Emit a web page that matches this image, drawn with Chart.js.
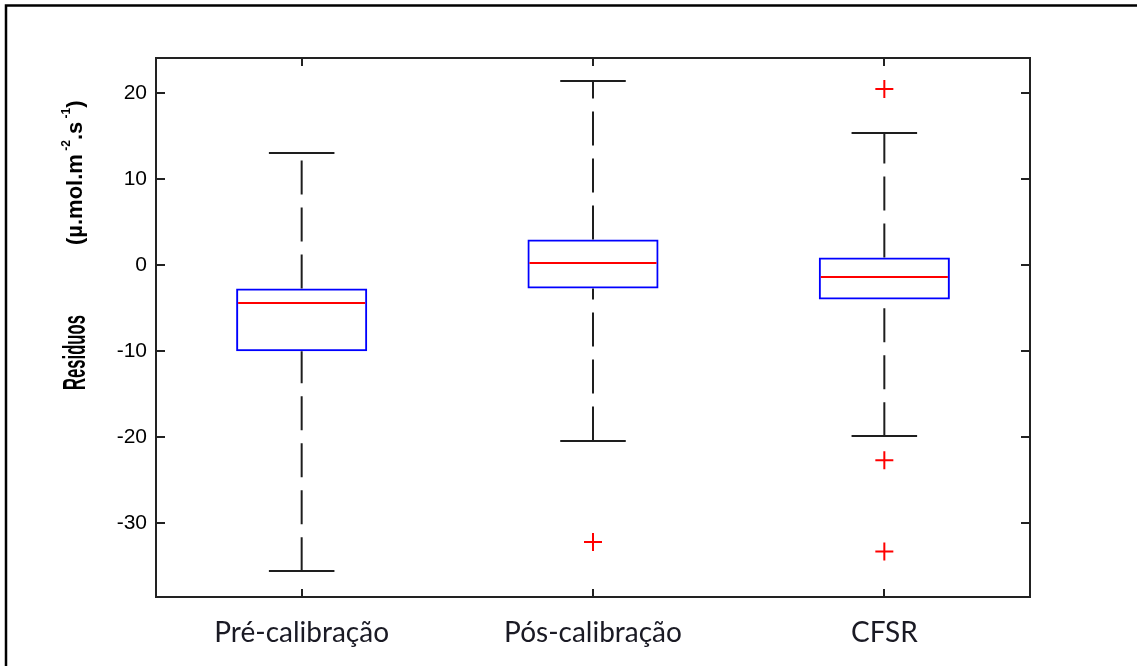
<!DOCTYPE html>
<html>
<head>
<meta charset="utf-8">
<script src="https://cdn.jsdelivr.net/npm/chart.js@4.4.0/dist/chart.umd.min.js"></script>
<style>
  html, body { margin: 0; padding: 0; background: #fff; }
</style>
</head>
<body>
<canvas id="boxChart" width="1137" height="666"></canvas>
<script>
// Box plot values
const categories = ["Pré-calibração", "Pós-calibração", "CFSR"];
const lowerWhisker = [-35.6, -20.4, -19.9];
const q1 = [-10.0, -2.7, -4.0];
const medians = [-4.4, 0.3, -1.4];
const q3 = [-2.7, 3.0, 0.9];
const upperWhisker = [13.1, 21.4, 15.4];
const outlierCats = ["Pós-calibração", "CFSR", "CFSR", "CFSR"];
const outlierVals = [-32.2, 20.5, -22.7, -33.3];
const yTicks = [-30, -20, -10, 0, 10, 20];
const yMin = -38.6, yMax = 24.1;

// whiskers, caps and medians drawn with the scales
const boxParts = {
  id: "boxParts",
  afterDatasetsDraw(chart) {
    const ctx = chart.ctx;
    const x = chart.scales.x, y = chart.scales.y;
    const band = x.getPixelForValue(1) - x.getPixelForValue(0);
    const boxW = band * 0.45;
    ctx.save();
    categories.forEach((c, i) => {
      const cx = x.getPixelForValue(i);
      // dashed whiskers
      ctx.strokeStyle = "#1e1e1e";
      ctx.lineWidth = 2;
      ctx.setLineDash([34, 13]);
      ctx.beginPath();
      ctx.moveTo(cx, y.getPixelForValue(q3[i]));
      ctx.lineTo(cx, y.getPixelForValue(upperWhisker[i]));
      ctx.stroke();
      ctx.beginPath();
      ctx.moveTo(cx, y.getPixelForValue(lowerWhisker[i]));
      ctx.lineTo(cx, y.getPixelForValue(q1[i]));
      ctx.stroke();
      // caps
      ctx.setLineDash([]);
      [upperWhisker[i], lowerWhisker[i]].forEach(v => {
        const py = Math.round(y.getPixelForValue(v));
        ctx.beginPath();
        ctx.moveTo(cx - boxW / 4, py);
        ctx.lineTo(cx + boxW / 4, py);
        ctx.stroke();
      });
      // median
      ctx.strokeStyle = "#ff0000";
      const my = Math.round(y.getPixelForValue(medians[i]));
      ctx.beginPath();
      ctx.moveTo(cx - boxW / 2 + 2, my);
      ctx.lineTo(cx + boxW / 2 - 2, my);
      ctx.stroke();
    });
    ctx.restore();
  }
};

// axes box with inward ticks, outer frame, y title
const frame = {
  id: "frame",
  afterDraw(chart) {
    const ctx = chart.ctx;
    const a = chart.chartArea;
    const x = chart.scales.x, y = chart.scales.y;
    ctx.save();
    ctx.strokeStyle = "#000";
    ctx.lineWidth = 2.5;
    ctx.beginPath();
    ctx.moveTo(6, 666);
    ctx.lineTo(6, 5.5);
    ctx.lineTo(1137, 5.5);
    ctx.stroke();

    ctx.strokeStyle = "#222";
    ctx.lineWidth = 2;
    ctx.strokeRect(a.left, a.top, a.right - a.left, a.bottom - a.top);
    ctx.beginPath();
    yTicks.forEach(v => {
      const py = Math.round(y.getPixelForValue(v));
      ctx.moveTo(a.left, py); ctx.lineTo(a.left + 9, py);
      ctx.moveTo(a.right, py); ctx.lineTo(a.right - 9, py);
    });
    categories.forEach((c, i) => {
      const px = Math.round(x.getPixelForValue(i));
      ctx.moveTo(px, a.top); ctx.lineTo(px, a.top + 8);
      ctx.moveTo(px, a.bottom); ctx.lineTo(px, a.bottom - 8);
    });
    ctx.stroke();

    // y axis title
    ctx.translate(85, 390);
    ctx.rotate(-Math.PI / 2);
    ctx.fillStyle = "#000";
    ctx.textBaseline = "alphabetic";
    ctx.save();
    ctx.scale(0.52, 1);
    ctx.font = "bold 32px 'Liberation Sans'";
    ctx.fillText("Residuos", 0, 0);
    ctx.restore();
    let tx = 145;
    const part = (t, size, dy) => {
      ctx.font = "bold " + size + "px 'Liberation Sans'";
      ctx.fillText(t, tx, dy);
      tx += ctx.measureText(t).width;
    };
    ctx.translate(0, -3);
    part("(\u00b5.mol.m", 22, 0);
    part(" -2", 12, -12);
    part(".s", 22, 0);
    part(" -1", 12, -12);
    part(")", 22, 0);
    ctx.restore();
  }
};

new Chart(document.getElementById("boxChart"), {
  type: "bar",
  data: {
    labels: categories,
    datasets: [
      {
        data: q1.map((v, i) => [v, q3[i]]),
        backgroundColor: "rgba(0,0,0,0)",
        borderColor: "#0000ff",
        borderWidth: 2,
        borderSkipped: false,
        barPercentage: 0.45,
        categoryPercentage: 1.0
      },
      {
        type: "line",
        showLine: false,
        data: outlierCats.map((c, i) => ({ x: c, y: outlierVals[i] })),
        pointStyle: "cross",
        pointRadius: 9,
        pointHoverRadius: 9,
        pointBorderColor: "#ff0000",
        pointBorderWidth: 2
      }
    ]
  },
  options: {
    responsive: false,
    animation: false,
    layout: { padding: { top: 58, right: 107, left: 0, bottom: 0 } },
    plugins: { legend: { display: false }, tooltip: { enabled: false } },
    scales: {
      x: {
        grid: { display: false, drawTicks: false },
        border: { display: false },
        ticks: { font: { family: "Lato", size: 28 }, color: "#1a1a24", padding: 19 },
        afterFit: s => { s.height = 69; }
      },
      y: {
        min: yMin,
        max: yMax,
        grid: { display: false, drawTicks: false },
        border: { display: false },
        afterBuildTicks: s => { s.ticks = yTicks.map(v => ({ value: v })); },
        ticks: { font: { family: "Liberation Sans", size: 21 }, color: "#000", padding: 9 },
        afterFit: s => { s.width = 156; }
      }
    }
  },
  plugins: [boxParts, frame]
});
</script>
</body>
</html>
